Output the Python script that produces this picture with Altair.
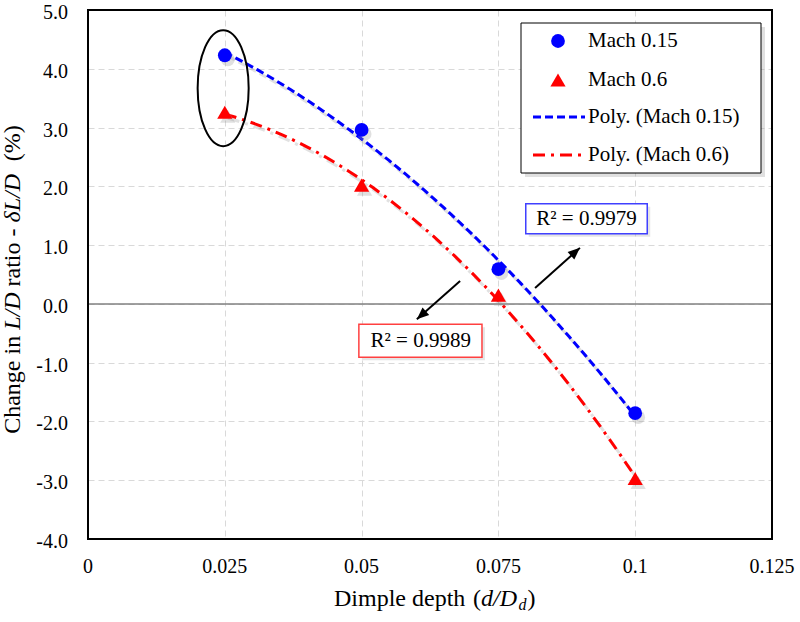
import altair as alt
import pandas as pd

# ---------------- data ----------------
depth = [0.025, 0.05, 0.075, 0.1]
mach015 = [4.23, 2.96, 0.59, -1.86]
mach06 = [3.26, 2.02, 0.15, -2.97]

x_ticks = [0, 0.025, 0.05, 0.075, 0.1, 0.125]
x_tick_labels = ["0", "0.025", "0.05", "0.075", "0.1", "0.125"]
y_ticks = [-4, -3, -2, -1, 0, 1, 2, 3, 4, 5]
y_tick_labels = ["-4.0", "-3.0", "-2.0", "-1.0", "0.0", "1.0", "2.0", "3.0", "4.0", "5.0"]

legend_labels = ["Mach 0.15", "Mach 0.6", "Poly. (Mach 0.15)", "Poly. (Mach 0.6)"]

r2_text = ["R\u00b2 = 0.9979", "R\u00b2 = 0.9989"]
r2_color = ["#4040ff", "#ff4040"]
r2_tx = [0.0911, 0.0608]
r2_ty = [1.448, -0.627]
r2_x1 = [0.0800, 0.0495]
r2_x2 = [0.1022, 0.0720]
r2_y1 = [1.704, -0.345]
r2_y2 = [1.192, -0.908]

arrow_x1 = [0.0817, 0.0680]
arrow_y1 = [0.270, 0.389]
arrow_x2 = [0.0899, 0.0601]
arrow_y2 = [0.953, -0.260]
arrow_angle = [48.4, 228.5]

ellipse_x = [0.0247]
ellipse_y = [3.67]

FONT = "Liberation Serif"
BLUE = "#0000ff"
RED = "#ff0000"

df15 = pd.DataFrame({"x": depth, "y": mach015})
df06 = pd.DataFrame({"x": depth, "y": mach06})
xs = alt.Scale(domain=[0, 0.125], nice=False, zero=False)
ys = alt.Scale(domain=[-4, 5], nice=False, zero=False)

X_AXIS = alt.Axis(values=x_ticks, grid=True, gridDash=[6, 4],
                  gridColor="#d9d9d9", gridWidth=1, ticks=False, tickSize=0,
                  domain=False, labels=False, title=None)
Y_AXIS = alt.Axis(values=y_ticks, grid=True, gridDash=[6, 4], gridColor="#d9d9d9",
                  gridWidth=1, ticks=False, tickSize=0, domain=False,
                  labels=False, title=None)


def X(field="x"):
    return alt.X(f"{field}:Q", scale=xs, axis=X_AXIS, title=None)


def Y(field="y"):
    return alt.Y(f"{field}:Q", scale=ys, axis=Y_AXIS, title=None)


one = pd.DataFrame({"a": [0]})

# tick labels as text marks (serif font)
xlab = alt.Chart(pd.DataFrame({"x": x_ticks, "t": x_tick_labels})).mark_text(
    font=FONT, fontSize=20, baseline="alphabetic", align="center", color="black").encode(
    x=X(), y=alt.value(563), text="t:N")
ylab = alt.Chart(pd.DataFrame({"y": y_ticks, "t": y_tick_labels})).mark_text(
    font=FONT, fontSize=20, baseline="middle", align="right", color="black", yOffset=3).encode(
    y=Y(), x=alt.value(-20), text="t:N")

zero = alt.Chart(pd.DataFrame({"y": [0]})).mark_rule(color="#808080", strokeWidth=1.5).encode(y=Y())

frame = alt.Chart(one).mark_rect(fill="transparent", stroke="black", strokeWidth=2).encode(
    x=alt.value(0), x2=alt.value(684), y=alt.value(0), y2=alt.value(529))


def trend(df, color, dash):
    base = alt.Chart(df).transform_regression(
        "x", "y", method="poly", order=2, extent=[0.025, 0.1])
    shadow = base.mark_line(color="#888888", opacity=0.25, strokeWidth=3,
                            strokeDash=dash, xOffset=3, yOffset=4).encode(x=X(), y=Y())
    line = base.mark_line(color=color, strokeWidth=3, strokeDash=dash).encode(x=X(), y=Y())
    return shadow + line


trend15 = trend(df15, BLUE, [8, 4])
trend06 = trend(df06, RED, [12, 6, 3, 6])

pts15_sh = alt.Chart(df15).mark_point(filled=True, shape="circle", size=190, color="#999999",
                                      opacity=0.3, xOffset=3, yOffset=4).encode(x=X(), y=Y())
pts15 = alt.Chart(df15).mark_point(filled=True, shape="circle", size=190, color=BLUE,
                                   opacity=1).encode(x=X(), y=Y())
pts06_sh = alt.Chart(df06).mark_point(filled=True, shape="triangle-up", size=230, color="#999999",
                                      opacity=0.3, xOffset=3, yOffset=4).encode(x=X(), y=Y())
pts06 = alt.Chart(df06).mark_point(filled=True, shape="triangle-up", size=230, color=RED,
                                   opacity=1).encode(x=X(), y=Y())

# ellipse around first points
ell = alt.Chart(pd.DataFrame({"x": ellipse_x, "y": ellipse_y})).mark_point(
    shape="M0,-1 A0.44,1 0 1,1 0,1 A0.44,1 0 1,1 0,-1 Z", size=13456, filled=False,
    stroke="black", strokeWidth=2, opacity=1).encode(x=X(), y=Y())

# arrows
arr_df = pd.DataFrame({"x": arrow_x1, "y": arrow_y1, "x2": arrow_x2, "y2": arrow_y2,
                       "angle": arrow_angle})
shafts = alt.Chart(arr_df).mark_rule(color="black", strokeWidth=2).encode(
    x=X(), y=Y(), x2="x2:Q", y2="y2:Q")
heads = alt.Chart(arr_df).mark_point(shape="M0,0 L0.42,1 L-0.42,1 Z", size=576, filled=True,
                                     color="black", opacity=1).encode(
    x=X("x2"), y=Y("y2"), angle=alt.Angle("angle:Q", scale=None))

# R^2 boxes
r2_df = pd.DataFrame({"t": r2_text, "c": r2_color, "tx": r2_tx, "ty": r2_ty,
                      "x1": r2_x1, "x2": r2_x2, "y1": r2_y1, "y2": r2_y2})
box_sh = alt.Chart(r2_df).mark_rect(fill="#aaaaaa", opacity=0.3, xOffset=3, yOffset=3,
                                    x2Offset=3, y2Offset=3).encode(
    x=X("x1"), x2="x2:Q", y=Y("y1"), y2="y2:Q")
boxes = alt.Chart(r2_df).mark_rect(fill="white", strokeWidth=1.5).encode(
    x=X("x1"), x2="x2:Q", y=Y("y1"), y2="y2:Q",
    stroke=alt.Stroke("c:N", scale=None))
r2_txt = alt.Chart(r2_df).mark_text(font=FONT, fontSize=21, color="black").encode(
    x=X("tx"), y=Y("ty"), text="t:N")

# manual legend
leg_sh = alt.Chart(one).mark_rect(fill="#999999", opacity=0.3).encode(
    x=alt.value(437), x2=alt.value(677), y=alt.value(17), y2=alt.value(167))
leg_box = alt.Chart(one).mark_rect(fill="white", stroke="black", strokeWidth=1).encode(
    x=alt.value(433), x2=alt.value(673), y=alt.value(13), y2=alt.value(163))
leg_c = alt.Chart(one).mark_point(filled=True, shape="circle", size=190, color=BLUE, opacity=1).encode(
    x=alt.value(470), y=alt.value(31))
leg_t = alt.Chart(one).mark_point(filled=True, shape="triangle-up", size=230, color=RED, opacity=1).encode(
    x=alt.value(470), y=alt.value(70))
leg_l1 = alt.Chart(one).mark_rule(color=BLUE, strokeWidth=3, strokeDash=[8, 4]).encode(
    x=alt.value(445), x2=alt.value(497), y=alt.value(107))
leg_l2 = alt.Chart(one).mark_rule(color=RED, strokeWidth=3, strokeDash=[12, 6, 3, 6]).encode(
    x=alt.value(445), x2=alt.value(497), y=alt.value(145))
leg_texts = [
    alt.Chart(one).mark_text(font=FONT, fontSize=21, align="left", baseline="middle",
                             color="black", text=lab).encode(x=alt.value(500), y=alt.value(yy))
    for lab, yy in zip(legend_labels, [31, 70, 107, 145])
]


# axis titles built from styled pieces
def ypiece(txt, yy, italic=False):
    return alt.Chart(one).mark_text(font=FONT, fontSize=24, angle=270, align="left",
                                    baseline="alphabetic", color="black", text=txt,
                                    fontStyle="italic" if italic else "normal").encode(
        x=alt.value(-68), y=alt.value(yy))


ytitle = [ypiece("Change in", 423.8), ypiece("L/D", 319.8, True), ypiece("ratio -", 276.5),
          ypiece("\u03b4L/D", 212.5, True), ypiece("(%)", 151.2)]


def xpiece(txt, xx, yy=596, italic=False, size=24):
    return alt.Chart(one).mark_text(font=FONT, fontSize=size, align="left",
                                    baseline="alphabetic", color="black", text=txt,
                                    fontStyle="italic" if italic else "normal").encode(
        x=alt.value(xx), y=alt.value(yy))


xtitle = [xpiece("Dimple depth", 246.0), xpiece("(", 385.0), xpiece("d/D", 393.0, italic=True),
          xpiece("d", 430.5, yy=600, italic=True, size=16), xpiece(")", 439.5)]

chart = alt.layer(
    zero, frame, xlab, ylab, trend15, trend06, pts15_sh, pts06_sh, pts15, pts06, ell, shafts,
    heads, box_sh, boxes, r2_txt, leg_sh, leg_box, leg_c, leg_t, leg_l1, leg_l2, *leg_texts,
    *ytitle, *xtitle
).properties(
    width=684, height=529,
    padding={"left": 88, "top": 10, "right": 28, "bottom": 83},
    autosize=alt.AutoSizeParams(type="none"),
    background="white",
).configure_view(stroke="black", strokeWidth=2)

chart.save("out.html", embed_options={"renderer": "svg", "actions": False})
